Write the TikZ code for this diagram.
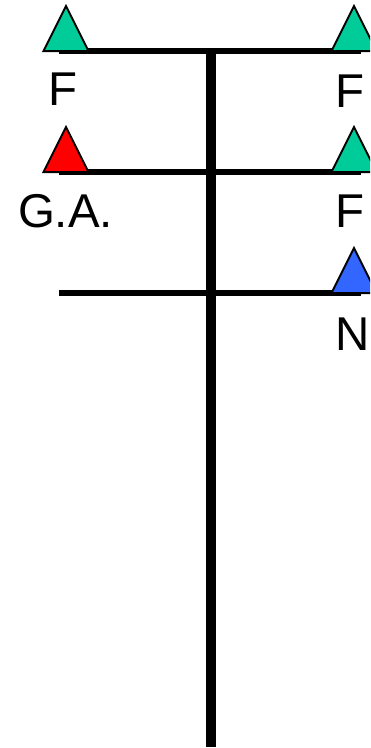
\documentclass[tikz,border=0pt]{standalone}
\usepackage{fontspec}
\setmainfont{Liberation Sans}
\usepackage{color}
\usetikzlibrary{positioning}
\definecolor{markgreen}{RGB}{0,204,153}
\definecolor{markblue}{RGB}{51,102,255}
\tikzset{
	bar/.style={draw=black, line width=6*0.02cm},
	stem/.style={draw=black, line width=10*0.02cm},
	marker/.style={draw=black, line width=2*0.02cm, line join=miter},
	tag/.style={font=\fontsize{27}{27}\selectfont, inner sep=0pt},
}
\newcommand{\marker}[3]{\filldraw[marker, fill=#3] (#1,#2) -- ++(22.5,45) -- ++(-45,0) -- cycle;}

\begin{document}
\begin{tikzpicture}[x=0.02cm, y=-0.02cm]
		\path[use as bounding box, clip] (0,0) rectangle (370,748);
		% stem and bars
		\coordinate (stemtop) at (210.5,48);
		\coordinate (stembottom) at (210.5,747);
		\coordinate (leftA) at (59,51);
		\coordinate (rightA) at (361,51);
		\coordinate (leftB) at (59,172);
		\coordinate (rightB) at (361,172);
		\coordinate (leftC) at (59,293);
		\coordinate (rightC) at (361,293);
		\draw[bar] (leftA) -- (rightA);
		\draw[bar] (leftB) -- (rightB);
		\draw[bar] (leftC) -- (rightC);
		\draw[stem] (stemtop) -- (stembottom);
		% markers
		\marker{66}{6}{markgreen}
		\marker{354}{6}{markgreen}
		\marker{66}{127}{red}
		\marker{354}{127}{markgreen}
		\marker{354}{248}{markblue}
		% labels
		\node[tag] (fA) at (62.5,89.5) {F};
		\node[tag] (fB) at (350,91.5) {F};
		\node[tag] (ga) at (65.5,211) {G.A.};
		\node[tag] (fC) at (350,211) {F};
		\node[tag] (n) at (353,334) {N};
	 \end{tikzpicture}
\end{document}
